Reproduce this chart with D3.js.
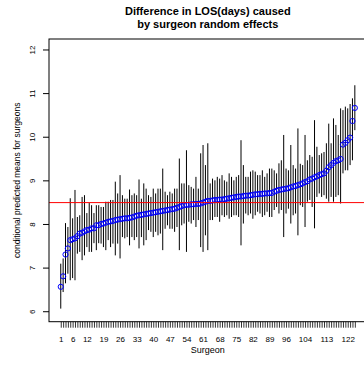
<!DOCTYPE html>
<html lang="en">
<head>
    <meta charset="UTF-8">
    <title>Surgeon random effects</title>
    <script src="https://cdn.jsdelivr.net/npm/d3@7/dist/d3.min.js"></script>
    <style>
        body { margin: 0; background: #fff; }
        text { font-family: "Liberation Sans", Arial, Helvetica, sans-serif; fill: #000; }
    </style>
</head>
<body>
<script>
    const width = 364;
    const height = 365;

    // predicted means per surgeon, already sorted
    const means = [
        6.56, 6.80, 7.30, 7.44, 7.63, 7.65, 7.67, 7.72, 7.78, 7.80, 7.83, 7.86, 7.87, 7.90, 7.90, 7.97, 7.97, 8.00, 8.01, 8.03, 8.05, 8.06, 8.07, 8.09,
        8.10, 8.11, 8.12, 8.13, 8.13, 8.14, 8.15, 8.17, 8.19, 8.20, 8.21, 8.22, 8.23, 8.24, 8.25, 8.26, 8.27, 8.28, 8.29, 8.30, 8.31, 8.32, 8.33, 8.34, 8.35,
        8.37, 8.39, 8.41, 8.43, 8.44, 8.44, 8.45, 8.45, 8.46, 8.46, 8.47, 8.49, 8.51, 8.53, 8.53, 8.54, 8.55, 8.55, 8.56, 8.56, 8.57, 8.58, 8.59, 8.60, 8.61,
        8.62, 8.63, 8.63, 8.64, 8.65, 8.65, 8.66, 8.67, 8.68, 8.68, 8.69, 8.69, 8.70, 8.70, 8.71, 8.71, 8.74, 8.76, 8.78, 8.79, 8.80, 8.81, 8.82, 8.84, 8.86,
        8.87, 8.89, 8.91, 8.93, 8.96, 8.98, 9.02, 9.04, 9.07, 9.09, 9.12, 9.14, 9.16, 9.22, 9.30, 9.35, 9.40, 9.44, 9.46, 9.49, 9.82, 9.86, 9.92, 9.98, 10.36, 10.66
    ];
    const lower = [
        6.06, 6.44, 6.64, 6.86, 6.71, 6.76, 6.71, 7.32, 7.36, 7.17, 7.28, 7.47, 7.36, 7.36, 7.56, 7.40, 7.56, 7.55, 7.47, 7.40, 7.63, 7.47, 7.55, 7.28,
        7.55, 7.21, 7.70, 7.67, 7.70, 7.51, 7.70, 7.63, 7.70, 7.44, 7.70, 7.51, 7.63, 7.86, 7.82, 7.70, 7.82, 7.74, 7.78, 7.40, 7.89, 7.97, 7.89, 7.89, 7.82,
        7.93, 7.40, 7.97, 8.01, 7.36, 8.05, 8.01, 8.09, 7.93, 8.09, 7.47, 7.36, 7.74, 7.40, 8.09, 8.09, 8.16, 8.16, 8.05, 8.20, 8.16, 8.20, 8.12, 8.16, 8.20,
        8.20, 8.16, 7.51, 8.01, 8.24, 8.20, 8.24, 8.12, 8.20, 8.28, 8.24, 8.16, 8.20, 8.28, 8.16, 8.16, 8.32, 8.39, 8.24, 8.32, 7.70, 8.24, 8.35, 8.01, 8.20,
        8.24, 7.74, 8.43, 8.39, 7.93, 8.51, 8.55, 8.39, 7.90, 8.62, 8.70, 8.62, 8.66, 8.58, 8.51, 8.62, 8.51, 8.62, 8.66, 8.47, 9.16, 9.23, 9.23, 9.35, 9.46, 10.15
    ];
    const upper = [
        7.09, 7.21, 8.02, 7.93, 8.59, 8.13, 8.78, 8.16, 8.20, 8.62, 8.66, 8.25, 8.48, 8.43, 8.25, 8.43, 8.43, 8.39, 8.39, 8.51, 8.51, 8.55, 8.55, 8.97,
        8.70, 9.12, 8.66, 8.58, 8.58, 8.79, 8.66, 8.70, 8.66, 9.02, 8.58, 8.93, 8.81, 8.66, 8.62, 8.81, 8.70, 8.81, 8.81, 9.27, 8.74, 8.66, 8.74, 8.70, 8.81,
        8.81, 9.50, 8.93, 8.93, 9.69, 8.89, 8.85, 8.81, 9.08, 8.81, 9.62, 9.81, 9.35, 9.85, 8.93, 9.04, 9.00, 9.08, 9.04, 9.12, 9.00, 8.97, 9.16, 9.08, 9.00,
        9.08, 9.12, 9.92, 9.35, 9.08, 9.08, 9.20, 9.23, 9.20, 9.12, 9.12, 9.23, 9.08, 9.16, 9.27, 9.27, 9.23, 9.16, 9.39, 9.46, 10.04, 9.27, 9.23, 9.81, 9.35,
        9.27, 10.19, 9.38, 9.35, 10.04, 9.46, 9.58, 9.54, 10.38, 9.77, 9.58, 9.62, 9.65, 9.85, 10.30, 9.85, 10.42, 10.27, 10.04, 10.65, 10.61, 10.69, 10.65, 10.75, 10.88, 11.18
    ];
    const overallMean = 8.49;
    const yTicks = [6, 7, 8, 9, 10, 11, 12];
    const xLabels = [1, 6, 12, 19, 26, 33, 40, 47, 54, 61, 68, 75, 82, 89, 96, 104, 113, 122];
    const titleLines = ['Difference in LOS(days) caused', 'by surgeon random effects'];

    const surgeons = d3.range(1, means.length + 1);

    // plot region, R style: axes extended 4% past the data range
    const plotLeft = 49, plotTop = 39, plotRight = 366.6, plotBottom = 321.7;
    const xPad = (surgeons.length - 1) * 0.04;
    const x = d3.scaleLinear()
        .domain([1 - xPad, surgeons.length + xPad])
        .range([plotLeft, plotRight]);
    const y = d3.scaleLinear()
        .domain([6 - 0.24, 12 + 0.24])
        .range([plotBottom, plotTop]);

    let svg = d3.select('body')
        .append('svg')
        .attr('width', width)
        .attr('height', height);

    // error bars
    svg.append('g')
        .selectAll('line')
        .data(surgeons)
        .enter()
        .append('line')
        .attr('x1', d => x(d))
        .attr('x2', d => x(d))
        .attr('y1', d => y(lower[d - 1]))
        .attr('y2', d => y(upper[d - 1]))
        .attr('stroke', '#000')
        .attr('stroke-width', 1);

    // means
    svg.append('g')
        .selectAll('circle')
        .data(surgeons)
        .enter()
        .append('circle')
        .attr('cx', d => x(d))
        .attr('cy', d => y(means[d - 1]))
        .attr('r', 2.6)
        .attr('fill', 'none')
        .attr('stroke', '#0000ff')
        .attr('stroke-width', 1);

    // overall mean
    svg.append('line')
        .attr('x1', plotLeft)
        .attr('x2', plotRight)
        .attr('y1', y(overallMean))
        .attr('y2', y(overallMean))
        .attr('stroke', '#ff0000')
        .attr('stroke-width', 1);

    // box
    svg.append('rect')
        .attr('x', plotLeft)
        .attr('y', plotTop)
        .attr('width', plotRight - plotLeft)
        .attr('height', plotBottom - plotTop)
        .attr('fill', 'none')
        .attr('stroke', '#000')
        .attr('stroke-width', 1);

    // y axis, labels parallel to the axis
    let yAxis = svg.append('g')
        .attr('transform', `translate(${plotLeft},0)`)
        .call(d3.axisLeft(y)
            .tickValues(yTicks)
            .tickFormat(d3.format('d'))
            .tickSize(6)
            .tickSizeOuter(0));
    yAxis.select('.domain').remove();
    yAxis.selectAll('text')
        .attr('x', null)
        .attr('dy', null)
        .attr('text-anchor', 'middle')
        .attr('font-size', 8)
        .attr('transform', 'translate(-14,0) rotate(-90)');

    // x axis: a tick for every surgeon, labels only where R fit them
    let xAxis = svg.append('g')
        .attr('transform', `translate(0,${plotBottom})`)
        .call(d3.axisBottom(x)
            .tickValues(surgeons)
            .tickSize(6)
            .tickPadding(9)
            .tickSizeOuter(0)
            .tickFormat(d => xLabels.includes(d) ? d : ''));
    xAxis.select('.domain').remove();
    xAxis.selectAll('line').attr('stroke-width', 0.8);
    xAxis.selectAll('text').attr('font-size', 8);
    xAxis.attr('font-family', null);
    yAxis.attr('font-family', null);

    // titles
    svg.append('g')
        .selectAll('text')
        .data(titleLines)
        .enter()
        .append('text')
        .attr('x', (plotLeft + plotRight) / 2)
        .attr('y', (d, i) => 15 + i * 13)
        .attr('text-anchor', 'middle')
        .attr('font-weight', 'bold')
        .attr('font-size', 11)
        .text(d => d);

    svg.append('text')
        .attr('x', (plotLeft + plotRight) / 2)
        .attr('y', 353)
        .attr('text-anchor', 'middle')
        .attr('font-size', 9)
        .text('Surgeon');

    svg.append('text')
        .attr('transform', `translate(19.5,${(plotTop + plotBottom) / 2}) rotate(-90)`)
        .attr('text-anchor', 'middle')
        .attr('font-size', 8.5)
        .text('conditional predicted means for surgeons');
</script>
</body>
</html>
